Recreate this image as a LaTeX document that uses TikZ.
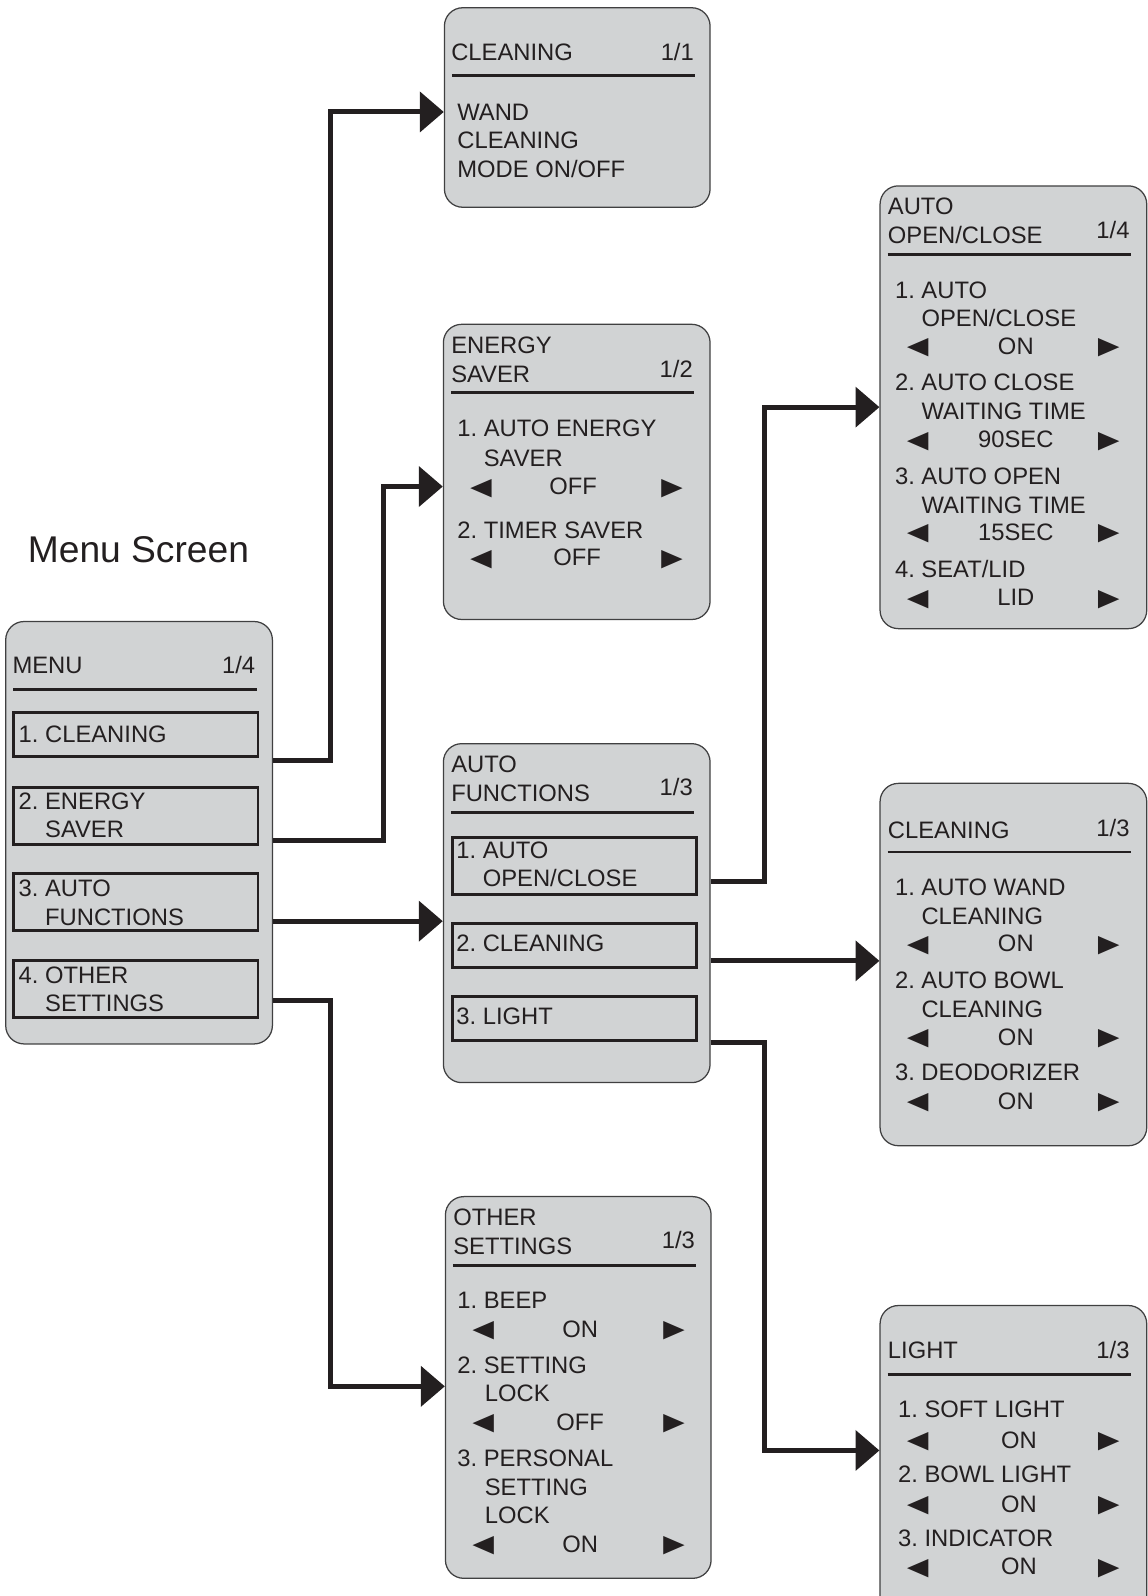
\documentclass[tikz,border=0pt]{standalone}
\usepackage{fontspec}
\usepackage{graphicx}
\setmainfont{Liberation Sans}
\usetikzlibrary{arrows.meta, calc}
\definecolor{panelgray}{HTML}{D1D3D4}
\definecolor{paneledge}{HTML}{404041}
\definecolor{inkdark}{HTML}{231F20}
\newcommand{\screenfont}{\fontsize{13.3}{15.9}\selectfont\frenchspacing}
\newcommand{\leftptr}{\raisebox{-1.36pt}{\scalebox{1.5}[1.3]{◄}}}
\newcommand{\rightptr}{\raisebox{-1.36pt}{\scalebox{1.5}[1.3]{►}}}
\tikzset{
  screen/.style={draw=paneledge, line width=0.7pt, fill=panelgray, rounded corners=0.36cm, anchor=north west, inner sep=0pt},
  itembox/.style={draw=inkdark, line width=1.6pt, anchor=north west, inner sep=0pt, minimum width=240*0.02cm},
  txt/.style={anchor=base west, inner sep=0pt, font=\screenfont, text=inkdark},
  rule/.style={draw=inkdark, line width=1.6pt},
  flow/.style={draw=inkdark, line width=2.8pt, -{Triangle[length=0.47cm, width=0.78cm]}},
}
% screen panel: name, x, top, width, height
\newcommand{\screen}[5]{%
  \node[screen, minimum width=#4*0.02cm, minimum height=#5*0.02cm] (#1) at (#2,#3) {};}
% framed menu entry: name, x, top, bottom
\newcommand{\entrybox}[4]{%
  \node[itembox, minimum height=(#4-#3)*0.02cm] (#1) at (#2,#3) {};}
\newcommand{\headrule}[2]{\draw[rule] (#1+8,#2) -- (#1+247,#2);}
\newcommand{\scrtext}[4]{\node[txt] (#1) at (#2,#3+8) {#4};}
\newcommand{\pagenum}[4]{\node[txt, anchor=base east] (#1) at (#2+246,#3+8) {#4};}
% value row: name, panel x, y, value, value centre
\newcommand{\choice}[5]{%
  \node[txt] (#1l) at (#2+20,#3+8) {\leftptr};
  \node[txt, anchor=base] (#1v) at (#5,#3+8) {#4};
  \node[txt, anchor=base east] (#1r) at (#2+243,#3+8) {\rightptr};}

\begin{document}
\begin{tikzpicture}[x=0.02cm, y=-0.02cm]
  \useasboundingbox (0,0) rectangle (1127,1568);

  \node[anchor=base west, inner sep=0pt, text=inkdark, font=\fontsize{20.8}{24}\selectfont] (caption) at (27,553) {Menu Screen};

  % Main menu
  \screen{menu}{5}{610}{262}{415}
  \scrtext{menutitle}{12}{654}{MENU}
  \pagenum{menupage}{5}{654}{1/4}
  \headrule{5}{677}
  \entrybox{mi1}{12}{699}{742}
  \entrybox{mi2}{12}{772}{828}
  \entrybox{mi3}{12}{857}{913}
  \entrybox{mi4}{12}{942}{998}
  \scrtext{mt1}{18}{721}{1. CLEANING}
  \scrtext{mt2}{18}{787}{2. ENERGY}
  \scrtext{mt2b}{44}{815}{SAVER}
  \scrtext{mt3}{18}{873}{3. AUTO}
  \scrtext{mt3b}{44}{901}{FUNCTIONS}
  \scrtext{mt4}{18}{958}{4. OTHER}
  \scrtext{mt4b}{44}{986}{SETTINGS}

  % Cleaning 1/1
  \screen{cleanA}{436}{7}{261}{196}
  \scrtext{cAtitle}{443}{51}{CLEANING}
  \pagenum{cApage}{436}{51}{1/1}
  \headrule{436}{74}
  \scrtext{cA1}{449}{110}{WAND}
  \scrtext{cA2}{449}{138}{CLEANING}
  \scrtext{cA3}{449}{166}{MODE ON/OFF}

  % Energy saver 1/2
  \screen{energy}{435}{318}{262}{290}
  \scrtext{entitle}{443}{339}{ENERGY}
  \scrtext{entitleb}{443}{368}{SAVER}
  \pagenum{enpage}{435}{363}{1/2}
  \headrule{435}{386}
  \scrtext{en1}{449}{421}{1. AUTO ENERGY}
  \scrtext{en1b}{475}{450}{SAVER}
  \choice{en1c}{435}{478}{OFF}{563}
  \scrtext{en2}{449}{521}{2. TIMER SAVER}
  \choice{en2c}{435}{548}{OFF}{567}

  % Auto functions 1/3
  \screen{autofn}{435}{730}{262}{333}
  \scrtext{aftitle}{443}{751}{AUTO}
  \scrtext{aftitleb}{443}{779}{FUNCTIONS}
  \pagenum{afpage}{435}{774}{1/3}
  \headrule{435}{798}
  \entrybox{ai1}{443}{821}{877}
  \entrybox{ai2}{443}{906}{949}
  \entrybox{ai3}{443}{978}{1021}
  \scrtext{at1}{448}{835}{1. AUTO}
  \scrtext{at1b}{474}{863}{OPEN/CLOSE}
  \scrtext{at2}{448}{927}{2. CLEANING}
  \scrtext{at3}{448}{999}{3. LIGHT}

  % Other settings 1/3
  \screen{other}{437}{1175}{261}{375}
  \scrtext{ostitle}{445}{1196}{OTHER}
  \scrtext{ostitleb}{445}{1224}{SETTINGS}
  \pagenum{ospage}{437}{1219}{1/3}
  \headrule{437}{1243}
  \scrtext{os1}{449}{1278}{1. BEEP}
  \choice{os1c}{437}{1306}{ON}{570}
  \scrtext{os2}{449}{1341}{2. SETTING}
  \scrtext{os2b}{476}{1369}{LOCK}
  \choice{os2c}{437}{1397}{OFF}{570}
  \scrtext{os3}{449}{1433}{3. PERSONAL}
  \scrtext{os3b}{476}{1461}{SETTING}
  \scrtext{os3c}{476}{1489}{LOCK}
  \choice{os3v}{437}{1517}{ON}{570}

  % Auto open/close 1/4
  \screen{autooc}{864}{182}{262}{435}
  \scrtext{octitle}{872}{203}{AUTO}
  \scrtext{octitleb}{872}{231}{OPEN/CLOSE}
  \pagenum{ocpage}{864}{226}{1/4}
  \headrule{864}{250}
  \scrtext{oc1}{879}{285}{1. AUTO}
  \scrtext{oc1b}{905}{313}{OPEN/CLOSE}
  \choice{oc1c}{864}{340}{ON}{998}
  \scrtext{oc2}{879}{376}{2. AUTO CLOSE}
  \scrtext{oc2b}{905}{404}{WAITING TIME}
  \choice{oc2c}{864}{432}{90SEC}{998}
  \scrtext{oc3}{879}{468}{3. AUTO OPEN}
  \scrtext{oc3b}{905}{496}{WAITING TIME}
  \choice{oc3c}{864}{523}{15SEC}{998}
  \scrtext{oc4}{879}{559}{4. SEAT/LID}
  \choice{oc4c}{864}{587}{LID}{998}

  % Cleaning 1/3
  \screen{cleanB}{864}{769}{262}{356}
  \scrtext{cBtitle}{872}{816}{CLEANING}
  \pagenum{cBpage}{864}{814}{1/3}
  \headrule{864}{837}
  \scrtext{cB1}{879}{872}{1. AUTO WAND}
  \scrtext{cB1b}{905}{900}{CLEANING}
  \choice{cB1c}{864}{927}{ON}{998}
  \scrtext{cB2}{879}{963}{2. AUTO BOWL}
  \scrtext{cB2b}{905}{992}{CLEANING}
  \choice{cB2c}{864}{1019}{ON}{998}
  \scrtext{cB3}{879}{1054}{3. DEODORIZER}
  \choice{cB3c}{864}{1082}{ON}{998}

  % Light 1/3
  \screen{light}{864}{1282}{262}{320}
  \scrtext{lttitle}{872}{1327}{LIGHT}
  \pagenum{ltpage}{864}{1327}{1/3}
  \headrule{864}{1350}
  \scrtext{lt1}{882}{1385}{1. SOFT LIGHT}
  \choice{lt1c}{864}{1415}{ON}{1001}
  \scrtext{lt2}{882}{1448}{2. BOWL LIGHT}
  \choice{lt2c}{864}{1478}{ON}{1001}
  \scrtext{lt3}{882}{1511}{3. INDICATOR}
  \choice{lt3c}{864}{1539}{ON}{1001}

  % Connectors
  \draw[flow] (menu.east |- 0,747) -- ++(56,0) |- (cleanA.west |- 0,110);
  \draw[flow] (menu.east |- 0,826) -- ++(109,0) |- (energy.west |- 0,478);
  \draw[flow] (menu.east |- 0,905) -- (autofn.west |- 0,905);
  \draw[flow] (menu.east |- 0,983) -- ++(56,0) |- (other.west |- 0,1362);
  \draw[flow] (autofn.east |- 0,866) -- ++(53,0) |- (autooc.west |- 0,400);
  \draw[flow] (autofn.east |- 0,944) -- (cleanB.west |- 0,944);
  \draw[flow] (autofn.east |- 0,1024) -- ++(53,0) |- (light.west |- 0,1425);
\end{tikzpicture}
\end{document}
